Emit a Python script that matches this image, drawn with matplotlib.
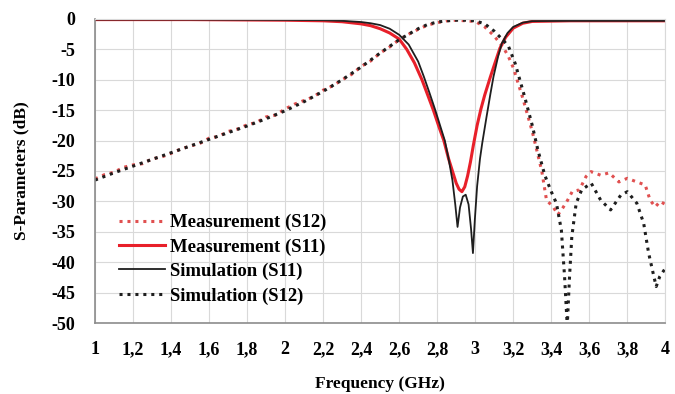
import matplotlib
matplotlib.use("Agg")
import matplotlib.pyplot as plt
from matplotlib.ticker import FixedLocator, FixedFormatter

# frequency ticks and labels (comma decimals as in the original)
x_ticks = [1, 1.2, 1.4, 1.6, 1.8, 2, 2.2, 2.4, 2.6, 2.8, 3, 3.2, 3.4, 3.6, 3.8, 4]
x_labels = ["1", "1,2", "1,4", "1,6", "1,8", "2", "2,2", "2,4", "2,6", "2,8",
            "3", "3,2", "3,4", "3,6", "3,8", "4"]
y_ticks = [0, -5, -10, -15, -20, -25, -30, -35, -40, -45, -50]

# Measurement S12 (red dotted)
f_meas_s12 = [1.0, 1.05, 1.1, 1.15, 1.2, 1.25, 1.3, 1.35, 1.4, 1.45, 1.5, 1.55, 1.6,
              1.65, 1.7, 1.75, 1.8, 1.85, 1.9, 1.95, 2.0, 2.05, 2.1, 2.15, 2.2, 2.25,
              2.3, 2.35, 2.4, 2.45, 2.5, 2.55, 2.6, 2.65, 2.7, 2.75, 2.8, 2.85, 2.9,
              2.95, 3.0, 3.05, 3.1, 3.15, 3.175, 3.2, 3.25, 3.3, 3.35, 3.375, 3.41,
              3.435, 3.46, 3.486, 3.51, 3.548, 3.583, 3.609, 3.66, 3.704, 3.756, 3.8,
              3.85, 3.894, 3.92, 3.947, 3.973, 4.0]
s12_meas = [-26.3, -25.6, -25.2, -24.4, -24.0, -23.8, -23.0, -22.7, -22.1, -21.4, -20.9,
            -20.5, -19.6, -19.3, -18.5, -18.1, -17.4, -17.0, -16.1, -15.8, -14.8, -14.0,
            -13.4, -12.8, -11.7, -11.0, -10.0, -9.1, -7.8, -6.9, -5.6, -4.6, -3.4, -2.5,
            -1.7, -1.0, -0.6, -0.3, -0.2, -0.3, -0.4, -1.3, -2.8, -4.8, -6.2, -8.0,
            -13.0, -18.5, -25.0, -29.8, -30.9, -32.2, -31.1, -29.8, -28.4, -28.1, -25.9,
            -25.1, -25.7, -25.3, -26.8, -26.2, -26.8, -27.3, -29.8, -30.9, -30.0, -30.5]

# Measurement S11 (red solid)
f_meas_s11 = [1.0, 1.5, 2.0, 2.2, 2.3, 2.4, 2.45, 2.5, 2.55, 2.6, 2.64, 2.68, 2.72, 2.75,
              2.78, 2.81, 2.835, 2.86, 2.88, 2.9, 2.915, 2.93, 2.945, 2.96, 2.975, 2.99,
              3.01, 3.03, 3.05, 3.08, 3.1, 3.13, 3.16, 3.2, 3.25, 3.3, 3.5, 4.0]
s11_meas = [-0.1, -0.1, -0.2, -0.3, -0.45, -0.8, -1.1, -1.6, -2.3, -3.3, -5.0, -7.2,
            -10.0, -12.5, -15.0, -17.8, -20.0, -23.0, -25.0, -27.0, -28.0, -28.4, -27.6,
            -25.8, -23.5, -20.8, -17.5, -14.8, -12.5, -9.5, -7.6, -4.8, -3.0, -1.5, -0.7,
            -0.4, -0.3, -0.3]

# Simulation S11 (black solid)
f_sim_s11 = [1.0, 1.5, 2.0, 2.2, 2.3, 2.4, 2.45, 2.5, 2.55, 2.6, 2.65, 2.7, 2.73, 2.76,
             2.79, 2.815, 2.84, 2.86, 2.88, 2.895, 2.907, 2.92, 2.935, 2.95, 2.965, 2.978,
             2.988, 2.998, 3.01, 3.025, 3.037, 3.06, 3.08, 3.096, 3.12, 3.14, 3.17, 3.2,
             3.25, 3.3, 3.5, 4.0]
s11_sim = [-0.1, -0.1, -0.15, -0.2, -0.3, -0.5, -0.7, -1.0, -1.6, -2.6, -4.2, -7.0, -9.5,
           -12.2, -15.0, -17.5, -20.0, -23.0, -26.5, -30.5, -34.2, -31.0, -29.2, -28.9,
           -30.5, -34.5, -38.5, -33.0, -27.5, -23.0, -20.4, -16.0, -12.3, -9.5, -6.2,
           -4.0, -2.3, -1.3, -0.6, -0.35, -0.3, -0.3]

# Simulation S12 (black dotted)
f_sim_s12 = [1.0, 1.1, 1.2, 1.3, 1.4, 1.5, 1.6, 1.7, 1.8, 1.9, 2.0, 2.1, 2.2, 2.3, 2.4,
             2.5, 2.6, 2.65, 2.7, 2.75, 2.8, 2.85, 2.9, 2.95, 3.0, 3.05, 3.1, 3.15, 3.175,
             3.21, 3.26, 3.3, 3.33, 3.366, 3.4, 3.427, 3.453, 3.47, 3.484, 3.496, 3.508,
             3.531, 3.56, 3.61, 3.66, 3.712, 3.765, 3.8, 3.85, 3.886, 3.912, 3.94, 3.952,
             3.97, 4.0]
s12_sim = [-26.5, -25.3, -24.2, -23.1, -22.0, -20.9, -19.8, -18.7, -17.6, -16.4, -15.1,
           -13.6, -11.9, -10.0, -7.9, -5.6, -3.4, -2.5, -1.6, -0.9, -0.5, -0.3, -0.2,
           -0.2, -0.3, -0.8, -2.0, -3.6, -4.5, -7.3, -12.8, -17.5, -21.6, -25.7, -28.4,
           -30.3, -34.7, -42.4, -50.5, -42.4, -35.8, -30.3, -28.1, -27.0, -29.8, -31.4,
           -29.0, -28.4, -30.3, -33.6, -38.5, -42.4, -44.0, -42.4, -41.0]

serif = ["Liberation Serif", "DejaVu Serif"]
red_dot = "#e05050"
red = "#e8202a"
black = "#1e1e1e"

plt.rcParams["axes.unicode_minus"] = False

fig = plt.figure(figsize=(6.75, 3.94), dpi=100)
ax = fig.add_axes([0.1407, 0.1802, 0.845, 0.7716])

ax.plot(f_meas_s12, s12_meas, color=red_dot, lw=2.2, ls=(0, (1, 1.6)),
        label="Measurement (S12)")
ax.plot(f_meas_s11, s11_meas, color=red, lw=2.2, label="Measurement (S11)")
ax.plot(f_sim_s11, s11_sim, color=black, lw=1.3, label="Simulation (S11)")
ax.plot(f_sim_s12, s12_sim, color=black, lw=2.2, ls=(0, (1, 1.6)),
        label="Simulation (S12)")

ax.set_xlim(1, 4)
ax.set_ylim(-50, 0)
ax.xaxis.set_major_locator(FixedLocator(x_ticks))
ax.xaxis.set_major_formatter(FixedFormatter(x_labels))
ax.set_yticks(y_ticks)
ax.grid(True, color="#d9d9d9", lw=0.8)
ax.set_axisbelow(True)
ax.tick_params(axis="y", length=0, pad=14)
ax.tick_params(axis="x", length=0, pad=13)
for lab in ax.get_xticklabels() + ax.get_yticklabels():
    lab.set_fontfamily(serif)
    lab.set_fontweight("bold")
    lab.set_fontsize(13)
for side in ["top", "right"]:
    ax.spines[side].set_color("#d9d9d9")
for side in ["left", "bottom"]:
    ax.spines[side].set_color("#8c8c8c")
    ax.spines[side].set_linewidth(1.2)

ax.set_xlabel("Frequency (GHz)", fontfamily=serif, fontweight="bold", fontsize=12.5,
              labelpad=13)
ax.set_ylabel("S-Parameters (dB)", fontfamily=serif, fontweight="bold", fontsize=12.5,
              labelpad=16)

leg = ax.legend(loc="lower left", bbox_to_anchor=(0.025, 0.03), frameon=False,
                prop={"family": serif, "weight": "bold", "size": 13.5},
                handlelength=2.5, handletextpad=0.25, labelspacing=0.38, borderpad=0)

fig.savefig("out.png", dpi=100)
